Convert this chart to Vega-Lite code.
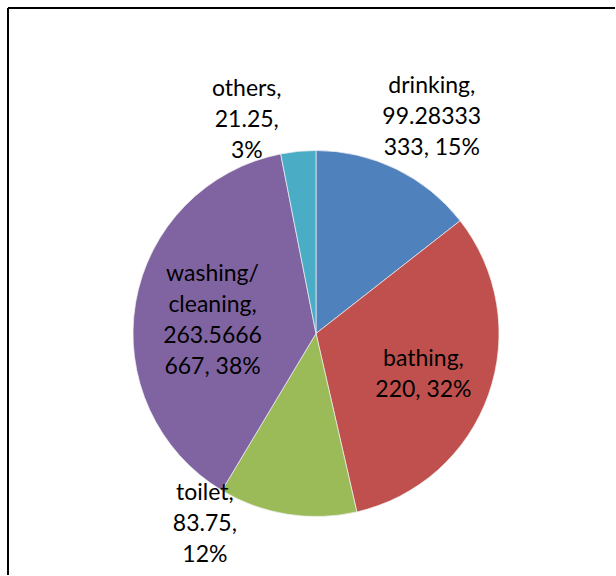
{
  "$schema": "https://vega.github.io/schema/vega-lite/v6.json",
  "autosize": {"type": "fit", "contains": "padding"},
  "width": 616,
  "height": 576,
  "padding": {"left": 7, "top": 7, "right": 0, "bottom": 0},
  "background": "white",
  "view": {"stroke": null},
  "config": {"text": {"font": "Lato", "fontSize": 23, "lineBreak": "\n", "lineHeight": 31, "color": "black"}},
  "data": {"values": [
    {"category": "drinking", "value": 99.28333333, "rank": 1, "label": "drinking,\n99.28333\n333, 15%"},
    {"category": "bathing", "value": 220, "rank": 2, "label": "bathing,\n220, 32%"},
    {"category": "toilet", "value": 83.75, "rank": 3, "label": "toilet,\n83.75,\n12%"},
    {"category": "washing/cleaning", "value": 263.5666667, "rank": 4, "label": "washing/\ncleaning,\n263.5666\n667, 38%"},
    {"category": "others", "value": 21.25, "rank": 5, "label": "others,\n21.25,\n3%"}
  ]},
  "encoding": {
    "theta": {"field": "value", "type": "quantitative", "stack": true},
    "order": {"field": "rank", "type": "quantitative"}
  },
  "layer": [
    {
      "mark": {"type": "rule", "color": "black", "strokeWidth": 2},
      "encoding": {"y": {"value": 0}}
    },
    {
      "mark": {"type": "rule", "color": "black", "strokeWidth": 2},
      "encoding": {"x": {"value": 0}}
    },
    {
      "mark": {"type": "arc", "radius": 183, "xOffset": 4.5, "yOffset": 42, "stroke": "#f0f0f0", "strokeWidth": 0.7},
      "encoding": {
        "color": {"field": "category", "type": "nominal", "legend": null,
          "scale": {"domain": ["drinking", "bathing", "toilet", "washing/cleaning", "others"],
                    "range": ["#4F81BD", "#C0504D", "#9BBB59", "#8064A2", "#4BACC6"]}}
      }
    },
    {
      "mark": {"type": "text", "radius": 246, "dx": 8, "dy": -26, "xOffset": 4.5, "yOffset": 42, "align": "center", "baseline": "middle"},
      "encoding": {"text": {"condition": {"test": "datum.category === 'drinking'", "field": "label"}, "value": ""}}
    },
    {
      "mark": {"type": "text", "radius": 114, "dx": 0, "dy": -12.5, "xOffset": 4.5, "yOffset": 42, "align": "center", "baseline": "middle"},
      "encoding": {"text": {"condition": {"test": "datum.category === 'bathing'", "field": "label"}, "value": ""}}
    },
    {
      "mark": {"type": "text", "radius": 205, "dx": -79, "dy": -43, "xOffset": 4.5, "yOffset": 42, "align": "center", "baseline": "middle"},
      "encoding": {"text": {"condition": {"test": "datum.category === 'toilet'", "field": "label"}, "value": ""}}
    },
    {
      "mark": {"type": "text", "radius": 104, "dx": -1, "dy": -41.5, "xOffset": 4.5, "yOffset": 42, "align": "center", "baseline": "middle"},
      "encoding": {"text": {"condition": {"test": "datum.category === 'washing/cleaning'", "field": "label"}, "value": ""}}
    },
    {
      "mark": {"type": "text", "radius": 219, "dx": -48, "dy": -27, "xOffset": 4.5, "yOffset": 42, "align": "center", "baseline": "middle"},
      "encoding": {"text": {"condition": {"test": "datum.category === 'others'", "field": "label"}, "value": ""}}
    }
  ]
}
